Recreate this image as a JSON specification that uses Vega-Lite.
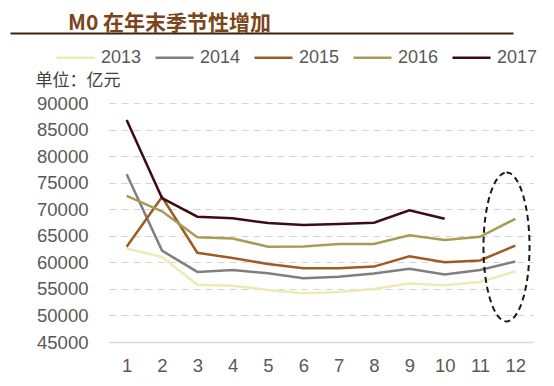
{
  "$schema": "https://vega.github.io/schema/vega-lite/v6.json",
  "width": 424,
  "height": 239,
  "autosize": {"type": "none"},
  "padding": {"left": 109, "top": 103, "right": 21, "bottom": 44},
  "background": "white",
  "title": {
    "text": "M0 在年末季节性增加",
    "anchor": "start",
    "frame": "group",
    "font": "Noto Sans CJK SC",
    "fontSize": 21,
    "fontWeight": "bold",
    "color": "#7b4519",
    "baseline": "alphabetic",
    "offset": -18,
    "dx": -41
  },
  "config": {
    "view": {"stroke": null},
    "font": "Liberation Sans"
  },
  "datasets": {
    "m0": [
      {"month": 1, "year": "2013", "value": 62600},
      {"month": 2, "year": "2013", "value": 61000},
      {"month": 3, "year": "2013", "value": 55800},
      {"month": 4, "year": "2013", "value": 55600},
      {"month": 5, "year": "2013", "value": 54800},
      {"month": 6, "year": "2013", "value": 54200},
      {"month": 7, "year": "2013", "value": 54400},
      {"month": 8, "year": "2013", "value": 55000},
      {"month": 9, "year": "2013", "value": 56000},
      {"month": 10, "year": "2013", "value": 55700},
      {"month": 11, "year": "2013", "value": 56300},
      {"month": 12, "year": "2013", "value": 58300},
      {"month": 1, "year": "2014", "value": 76600},
      {"month": 2, "year": "2014", "value": 62200},
      {"month": 3, "year": "2014", "value": 58200},
      {"month": 4, "year": "2014", "value": 58550},
      {"month": 5, "year": "2014", "value": 57950},
      {"month": 6, "year": "2014", "value": 57000},
      {"month": 7, "year": "2014", "value": 57300},
      {"month": 8, "year": "2014", "value": 57900},
      {"month": 9, "year": "2014", "value": 58800},
      {"month": 10, "year": "2014", "value": 57700},
      {"month": 11, "year": "2014", "value": 58550},
      {"month": 12, "year": "2014", "value": 60150},
      {"month": 1, "year": "2015", "value": 62950},
      {"month": 2, "year": "2015", "value": 72300},
      {"month": 3, "year": "2015", "value": 61800},
      {"month": 4, "year": "2015", "value": 60800},
      {"month": 5, "year": "2015", "value": 59700},
      {"month": 6, "year": "2015", "value": 58900},
      {"month": 7, "year": "2015", "value": 58900},
      {"month": 8, "year": "2015", "value": 59200},
      {"month": 9, "year": "2015", "value": 61150},
      {"month": 10, "year": "2015", "value": 60000},
      {"month": 11, "year": "2015", "value": 60350},
      {"month": 12, "year": "2015", "value": 63150},
      {"month": 1, "year": "2016", "value": 72500},
      {"month": 2, "year": "2016", "value": 69600},
      {"month": 3, "year": "2016", "value": 64700},
      {"month": 4, "year": "2016", "value": 64500},
      {"month": 5, "year": "2016", "value": 62950},
      {"month": 6, "year": "2016", "value": 63000},
      {"month": 7, "year": "2016", "value": 63450},
      {"month": 8, "year": "2016", "value": 63450},
      {"month": 9, "year": "2016", "value": 65100},
      {"month": 10, "year": "2016", "value": 64200},
      {"month": 11, "year": "2016", "value": 64800},
      {"month": 12, "year": "2016", "value": 68200},
      {"month": 1, "year": "2017", "value": 86800},
      {"month": 2, "year": "2017", "value": 72100},
      {"month": 3, "year": "2017", "value": 68600},
      {"month": 4, "year": "2017", "value": 68300},
      {"month": 5, "year": "2017", "value": 67400},
      {"month": 6, "year": "2017", "value": 67050},
      {"month": 7, "year": "2017", "value": 67200},
      {"month": 8, "year": "2017", "value": 67450},
      {"month": 9, "year": "2017", "value": 69800},
      {"month": 10, "year": "2017", "value": 68200}
    ],
    "highlight": [
      {"month": 11.75, "value": 62900}
    ],
    "underline": [
      {"u": 0},
      {"u": 1}
    ]
  },
  "layer": [
    {
      "layer": [
        {
          "data": {"name": "m0"},
          "mark": {"type": "line", "strokeWidth": 2.5},
          "encoding": {
            "x": {
              "field": "month",
              "type": "quantitative",
              "scale": {"domain": [0.5, 12.5], "nice": false, "zero": false},
              "axis": {
                "orient": "bottom",
                "values": [1, 2, 3, 4, 5, 6, 7, 8, 9, 10, 11, 12],
                "tickCount": 40,
                "format": "d",
                "title": null,
                "grid": false,
                "ticks": false,
                "domainColor": "#d9d9d9",
                "domainWidth": 1.5,
                "labelFontSize": 18.5,
                "labelColor": "#595959",
                "labelPadding": 14,
                "labelOverlap": false
              }
            },
            "y": {
              "field": "value",
              "type": "quantitative",
              "scale": {"domain": [45000, 90000], "nice": false, "zero": false},
              "axis": {
                "values": [45000, 50000, 55000, 60000, 65000, 70000, 75000, 80000, 85000, 90000],
                "tickCount": 40,
                "format": "d",
                "domain": false,
                "ticks": false,
                "grid": true,
                "gridColor": "#d4d4d4",
                "gridDash": [7, 5],
                "gridWidth": 1,
                "labelFontSize": 18.5,
                "labelColor": "#595959",
                "labelPadding": 21,
                "labelOverlap": false,
                "title": "单位：亿元",
                "titleAngle": 0,
                "titleAlign": "left",
                "titleBaseline": "middle",
                "titleX": -74,
                "titleY": -23,
                "titleFont": "Noto Sans CJK SC",
                "titleFontSize": 17,
                "titleFontWeight": "normal",
                "titleColor": "#404040"
              }
            },
            "color": {
              "field": "year",
              "type": "nominal",
              "scale": {
                "domain": ["2013", "2014", "2015", "2016", "2017"],
                "range": ["#efeab0", "#7f7f7f", "#9e5c24", "#a89b58", "#3d0c12"]
              },
              "legend": {
                "title": null,
                "orient": "none",
                "direction": "horizontal",
                "columns": 5,
                "legendX": -54,
                "legendY": -66,
                "symbolType": "stroke",
                "symbolSize": 1444,
                "symbolStrokeWidth": 2.5,
                "labelFontSize": 18,
                "labelColor": "#595959",
                "labelOffset": 5,
                "columnPadding": 8,
                "padding": 0
              }
            }
          }
        },
        {
          "data": {"name": "highlight"},
          "mark": {
            "type": "point",
            "filled": false,
            "shape": "M0,-1C0.1707,-1,0.309,-0.5523,0.309,0C0.309,0.5523,0.1707,1,0,1C-0.1707,1,-0.309,0.5523,-0.309,0C-0.309,-0.5523,-0.1707,-1,0,-1Z",
            "size": 22201,
            "stroke": "#1a1a1a",
            "strokeWidth": 2,
            "strokeDash": [6, 4],
            "opacity": 1
          },
          "encoding": {
            "x": {"field": "month", "type": "quantitative"},
            "y": {"field": "value", "type": "quantitative"}
          }
        }
      ]
    },
    {
      "data": {"name": "underline"},
      "mark": {"type": "point", "opacity": 0},
      "encoding": {
        "x": {
          "field": "u",
          "type": "quantitative",
          "scale": {"domain": [0, 1], "range": [-99, 404], "nice": false, "zero": false},
          "axis": {
            "orient": "top",
            "offset": 70,
            "domainColor": "#3b2314",
            "domainWidth": 1.8,
            "ticks": false,
            "labels": false,
            "grid": false,
            "title": null
          }
        }
      }
    }
  ],
  "resolve": {"scale": {"x": "independent"}}
}
